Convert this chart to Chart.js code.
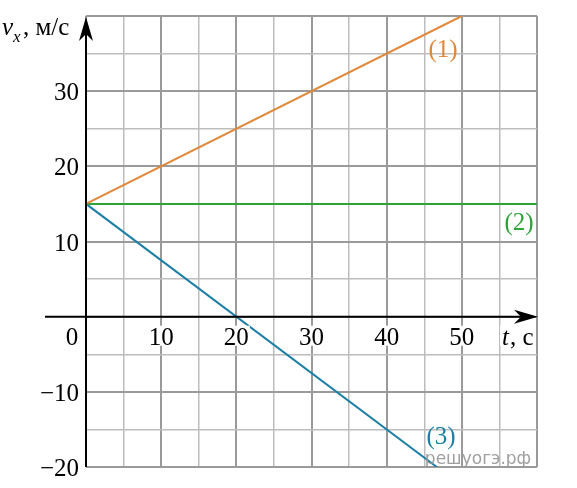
<!DOCTYPE html>
<html><head><meta charset="utf-8">
<script src="https://cdn.jsdelivr.net/npm/chart.js@4"></script>
<style>html,body{margin:0;padding:0;background:#fff}#wrap{width:577px;height:488px;position:relative}</style>
</head><body><div id="wrap"><canvas id="c" width="577" height="488"></canvas></div>
<script>
const tLine1 = [0, 50];
const vLine1 = [15, 40];
const tLine2 = [0, 60];
const vLine2 = [15, 15];
const tLine3 = [0, 46.67];
const vLine3 = [15, -20];
const xTickLabels = [10, 20, 30, 40, 50];
const yTickLabels = [30, 20, 10, -10, -20];
const seriesLabels = ['(1)', '(2)', '(3)'];

const toPts = (xs, ys) => xs.map((x, i) => ({x: x, y: ys[i]}));
const C1 = '#E0883A', C2 = '#2FA33A', C3 = '#1E7FA6';
const SERIF = '"Liberation Serif", "Times New Roman", serif';

const overlay = {
  id: 'overlay',
  afterDatasetsDraw(chart) {
    const ctx = chart.ctx;
    const xs = chart.scales.x, ys = chart.scales.y;
    const x0 = xs.getPixelForValue(0), y0 = ys.getPixelForValue(0);
    const ca = chart.chartArea;
    ctx.save();
    // axes
    ctx.strokeStyle = '#000'; ctx.fillStyle = '#000'; ctx.lineWidth = 2;
    ctx.beginPath(); ctx.moveTo(45, y0); ctx.lineTo(ca.right - 4, y0); ctx.stroke();
    ctx.beginPath(); ctx.moveTo(x0, ca.bottom); ctx.lineTo(x0, ca.top + 6); ctx.stroke();
    // x arrow
    ctx.beginPath();
    ctx.moveTo(ca.right + 1, y0);
    ctx.lineTo(ca.right - 23, y0 - 7);
    ctx.lineTo(ca.right - 16, y0);
    ctx.lineTo(ca.right - 23, y0 + 7);
    ctx.closePath(); ctx.fill();
    // y arrow
    ctx.beginPath();
    ctx.moveTo(x0, ca.top + 1);
    ctx.lineTo(x0 - 7, ca.top + 25);
    ctx.lineTo(x0, ca.top + 18);
    ctx.lineTo(x0 + 7, ca.top + 25);
    ctx.closePath(); ctx.fill();

    ctx.font = '25px ' + SERIF;
    ctx.textBaseline = 'alphabetic';
    // y tick labels
    ctx.textAlign = 'right';
    yTickLabels.forEach(v => {
      const y = ys.getPixelForValue(v);
      const s = v < 0 ? '\u2212' + Math.abs(v) : String(v);
      ctx.fillStyle = '#000';
      ctx.fillText(s, 79, y + 9);
    });
    // 0
    ctx.textAlign = 'center';
    ctx.fillText('0', 72, y0 + 28);
    // x tick labels
    xTickLabels.forEach(v => {
      const x = xs.getPixelForValue(v);
      const w = ctx.measureText(String(v)).width;
      ctx.fillStyle = '#fff';
      ctx.fillRect(x - w / 2 - 1, y0 + 9, w + 2, 20);
      ctx.fillStyle = '#000';
      ctx.fillText(String(v), x, y0 + 28);
    });
    // t, c
    ctx.textAlign = 'left';
    ctx.fillStyle = '#fff';
    ctx.fillRect(500, y0 + 9, 36, 20);
    ctx.fillStyle = '#000';
    ctx.font = 'italic 25px ' + SERIF;
    ctx.fillText('t', 502, y0 + 28);
    ctx.font = '25px ' + SERIF;
    ctx.fillText(', c', 510, y0 + 28);
    // v_x, м/с
    ctx.font = 'italic 25px ' + SERIF;
    ctx.fillText('v', 2, 35);
    ctx.font = 'italic 17px ' + SERIF;
    ctx.fillText('x', 13, 42);
    ctx.font = '25px ' + SERIF;
    ctx.fillText(', м/с', 23, 35);
    // series labels
    ctx.textAlign = 'center';
    ctx.fillStyle = C1; ctx.fillText(seriesLabels[0], 443, 57);
    ctx.fillStyle = C2; ctx.fillText(seriesLabels[1], 519, 230);
    ctx.fillStyle = C3; ctx.fillText(seriesLabels[2], 441, 444);
    // watermark
    ctx.fillStyle = 'rgba(150,150,150,0.9)';
    ctx.font = '17px "DejaVu Sans", sans-serif';
    ctx.fillText('решуогэ.рф', 478, 464);
    ctx.restore();
  }
};

new Chart(document.getElementById('c'), {
  type: 'scatter',
  data: {
    datasets: [
      {data: toPts(tLine1, vLine1), showLine: true, borderColor: C1, borderWidth: 2, pointRadius: 0},
      {data: toPts(tLine2, vLine2), showLine: true, borderColor: C2, borderWidth: 2, pointRadius: 0},
      {data: toPts(tLine3, vLine3), showLine: true, borderColor: C3, borderWidth: 2, pointRadius: 0}
    ]
  },
  options: {
    responsive: false,
    animation: false,
    layout: {padding: {left: 86, right: 40, top: 16, bottom: 21}},
    plugins: {legend: {display: false}, tooltip: {enabled: false}},
    scales: {
      x: {
        type: 'linear', min: 0, max: 60,
        ticks: {display: false, stepSize: 5},
        border: {display: false},
        grid: {
          drawTicks: false,
          color: c => (c.tick && c.tick.value % 10 === 0) ? '#9a9a9a' : '#bdbdbd',
          lineWidth: c => (c.tick && c.tick.value % 10 === 0) ? 2 : 1.5
        }
      },
      y: {
        type: 'linear', min: -20, max: 40,
        ticks: {display: false, stepSize: 5},
        border: {display: false},
        grid: {
          drawTicks: false,
          color: c => (c.tick && c.tick.value % 10 === 0) ? '#9a9a9a' : '#bdbdbd',
          lineWidth: c => (c.tick && c.tick.value % 10 === 0) ? 2 : 1.5
        }
      }
    }
  },
  plugins: [overlay]
});
</script></body></html>
